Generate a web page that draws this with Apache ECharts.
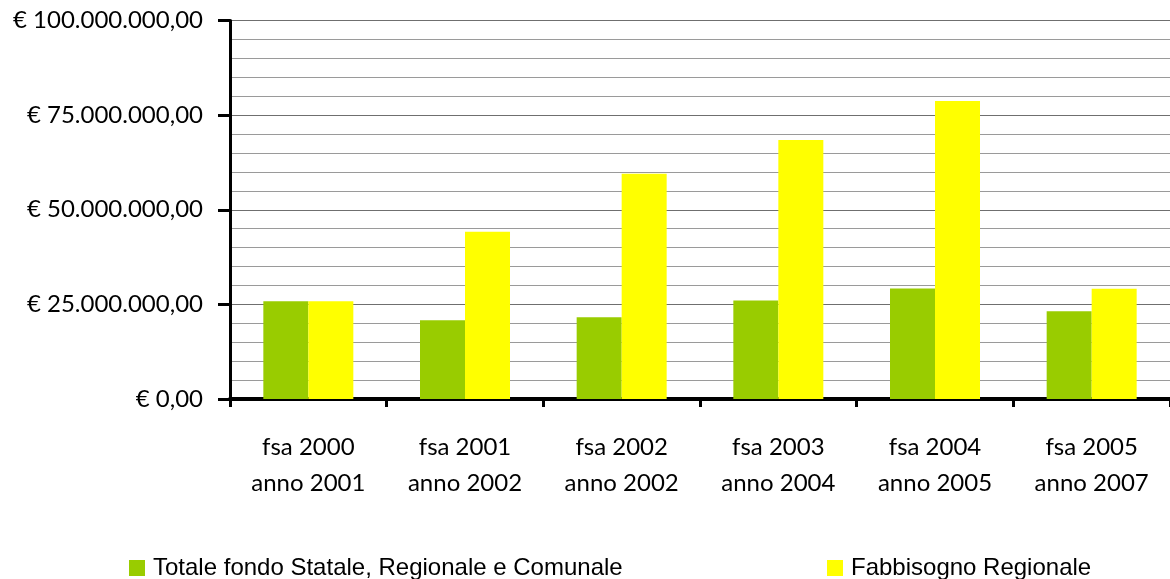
<!DOCTYPE html>
<html>
<head>
<meta charset="utf-8">
<script src="https://cdn.jsdelivr.net/npm/echarts@6/dist/echarts.min.js"></script>
<style>
  html, body { margin: 0; padding: 0; background: #fff; }
  #chart { width: 1170px; height: 579px; }
</style>
</head>
<body>
<div id="chart"></div>
<script>
const categories = [
  'fsa 2000\nanno 2001',
  'fsa 2001\nanno 2002',
  'fsa 2002\nanno 2002',
  'fsa 2003\nanno 2004',
  'fsa 2004\nanno 2005',
  'fsa 2005\nanno 2007'
];
const totaleFondo = [25800000, 20800000, 21600000, 26000000, 29200000, 23200000];
const fabbisogno = [25800000, 44200000, 59500000, 68400000, 78700000, 29100000];
const seriesNames = ['Totale fondo Statale, Regionale e Comunale', 'Fabbisogno Regionale'];
const colors = ['#99CC00', '#FFFF00'];

// formato euro italiano: € 25.000.000,00
function euro(v) {
  const s = Math.round(v).toString().replace(/\B(?=(\d{3})+(?!\d))/g, '.');
  return '€ ' + s + ',00';
}

const chart = echarts.init(document.getElementById('chart'));

const legendText = { fontFamily: 'Liberation Sans', fontSize: 24, color: '#000', padding: [0, 0, 0, 3] };

const option = {
  animation: false,
  grid: { left: 230, top: 20.5, width: 951, height: 378.5, containLabel: false },
  legend: [
    {
      data: [seriesNames[0]], left: 129, top: 556, padding: 0, itemWidth: 16, itemHeight: 16,
      icon: 'rect', textStyle: legendText, itemGap: 0
    },
    {
      data: [seriesNames[1]], left: 827, top: 556, padding: 0, itemWidth: 16, itemHeight: 16,
      icon: 'rect', textStyle: legendText, itemGap: 0
    }
  ],
  xAxis: {
    type: 'category',
    data: categories,
    axisLine: { lineStyle: { color: '#000', width: 4 } },
    axisTick: { show: true, length: 8, lineStyle: { color: '#000', width: 3 } },
    axisLabel: {
      fontFamily: 'Lato', fontSize: 24, color: '#000', lineHeight: 36, margin: 30
    }
  },
  yAxis: {
    type: 'value',
    min: 0,
    max: 100000000,
    interval: 25000000,
    axisLine: { show: true, lineStyle: { color: '#000', width: 3 } },
    axisTick: { show: true, length: 12, lineStyle: { color: '#000', width: 3 } },
    axisLabel: {
      formatter: euro, fontFamily: 'Lato', fontSize: 24, color: '#000', margin: 27
    },
    splitLine: { show: true, lineStyle: { color: '#6f6f6f', width: 1 } },
    minorTick: { show: false, splitNumber: 5 },
    minorSplitLine: { show: true, lineStyle: { color: '#9a9a9a', width: 1 } }
  },
  series: [
    {
      name: seriesNames[0], type: 'bar', data: totaleFondo,
      barWidth: 45, barGap: '0%', itemStyle: { color: colors[0] }
    },
    {
      name: seriesNames[1], type: 'bar', data: fabbisogno,
      barWidth: 45, barGap: '0%', itemStyle: { color: colors[1] }
    }
  ]
};

chart.setOption(option);
</script>
</body>
</html>
